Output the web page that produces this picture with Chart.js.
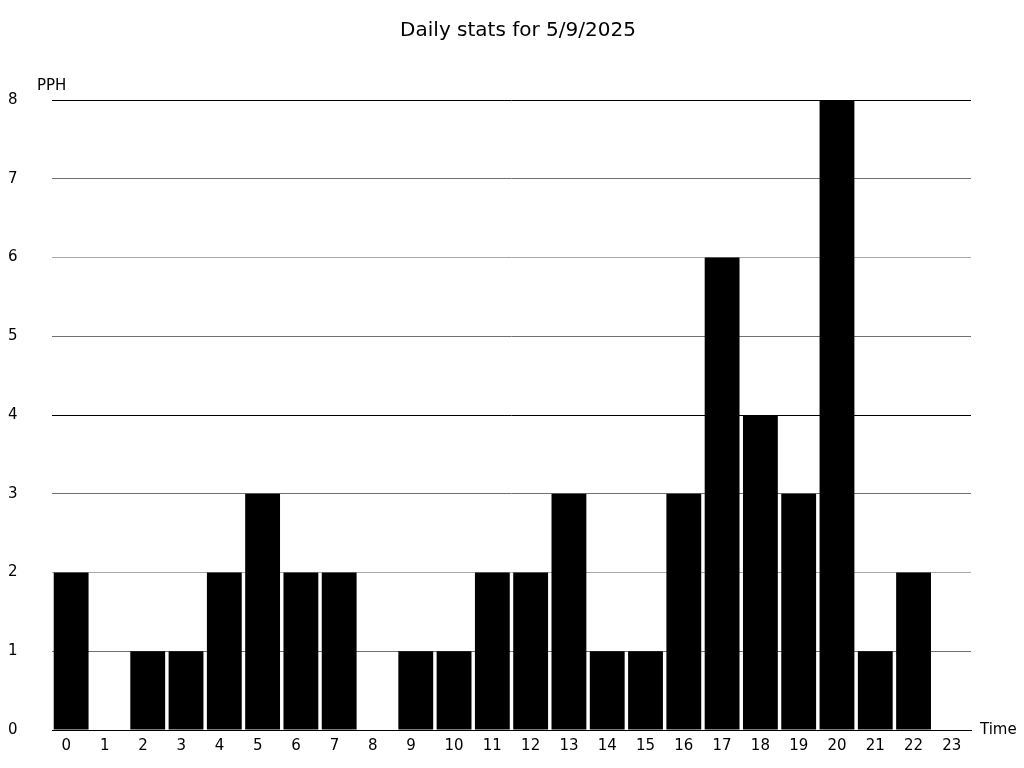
<!DOCTYPE html>
<html>
<head>
<meta charset="utf-8">
<script src="https://cdn.jsdelivr.net/npm/chart.js@4/dist/chart.umd.min.js"></script>
<style>
    html, body { margin: 0; padding: 0; background: #fff; }
    #wrap { width: 1024px; height: 768px; }
</style>
</head>
<body>
<div id="wrap"><canvas id="barChart"></canvas></div>
<script>
const horas = ['0', '1', '2', '3', '4', '5', '6', '7', '8', '9', '10', '11',
    '12', '13', '14', '15', '16', '17', '18', '19', '20', '21', '22', '23'];
const pph = [2, 0, 1, 1, 2, 3, 2, 2, 0, 1, 1, 2, 2, 3, 1, 1, 3, 6, 4, 3, 8, 1, 2, 0];
const titulo = 'Daily stats for 5/9/2025';
const etiquetaY = 'PPH';
const etiquetaX = 'Time';

const fuente = 'DejaVu Sans';

// titulo centrado en el canvas y texto de los ejes fuera del area
const textosExtra = {
    id: 'textosExtra',
    afterDraw(c) {
        const ctx = c.ctx;
        const area = c.chartArea;
        ctx.save();
        ctx.fillStyle = '#000';
        ctx.textBaseline = 'middle';
        ctx.textAlign = 'center';
        ctx.font = '20px "' + fuente + '"';
        ctx.fillText(titulo, c.width / 2 + 6, 31);
        ctx.font = '15px "' + fuente + '"';
        ctx.textAlign = 'left';
        ctx.fillText(etiquetaY, 37, area.top - 14);
        ctx.fillText(etiquetaX, area.right + 9, area.bottom);
        ctx.restore();
    }
};

function colorGrid(v) {
    if (v % 4 === 0) return '#000';
    if (v % 2 === 0) return '#a8a8a8';
    return '#707070';
}

const ctx = document.getElementById('barChart').getContext('2d');
const chart = new Chart(ctx, {
    type: 'bar',
    data: {
        labels: horas,
        datasets: [{
            label: etiquetaY,
            data: pph,
            backgroundColor: '#000',
            borderWidth: 0,
            barPercentage: 0.91,
            categoryPercentage: 1
        }]
    },
    options: {
        responsive: true,
        maintainAspectRatio: false,
        animation: false,
        layout: { padding: { left: 8, right: 53, top: 100, bottom: 0 } },
        plugins: {
            legend: { display: false },
            tooltip: { enabled: false },
            title: { display: false }
        },
        scales: {
            x: {
                afterFit: s => { s.height = 38; },
                grid: { display: false, drawTicks: false },
                border: { display: true, color: '#000', width: 1 },
                ticks: {
                    color: '#000',
                    padding: 7,
                    maxRotation: 0,
                    autoSkip: false,
                    font: { family: fuente, size: 15 },
                    // las etiquetas de un digito van alineadas como si fueran de dos
                    callback: function (v) {
                        const t = this.getLabelForValue(v);
                        return t.length === 1 ? t + '\u2007' : t;
                    }
                }
            },
            y: {
                min: 0,
                max: 8,
                afterFit: s => { s.width = 44; },
                grid: {
                    drawTicks: false,
                    color: c => colorGrid(c.tick.value),
                    lineWidth: 1
                },
                border: { display: false },
                ticks: {
                    stepSize: 1,
                    color: '#000',
                    crossAlign: 'far',
                    font: { family: fuente, size: 15 }
                }
            }
        }
    },
    plugins: [textosExtra]
});
</script>
</body>
</html>
